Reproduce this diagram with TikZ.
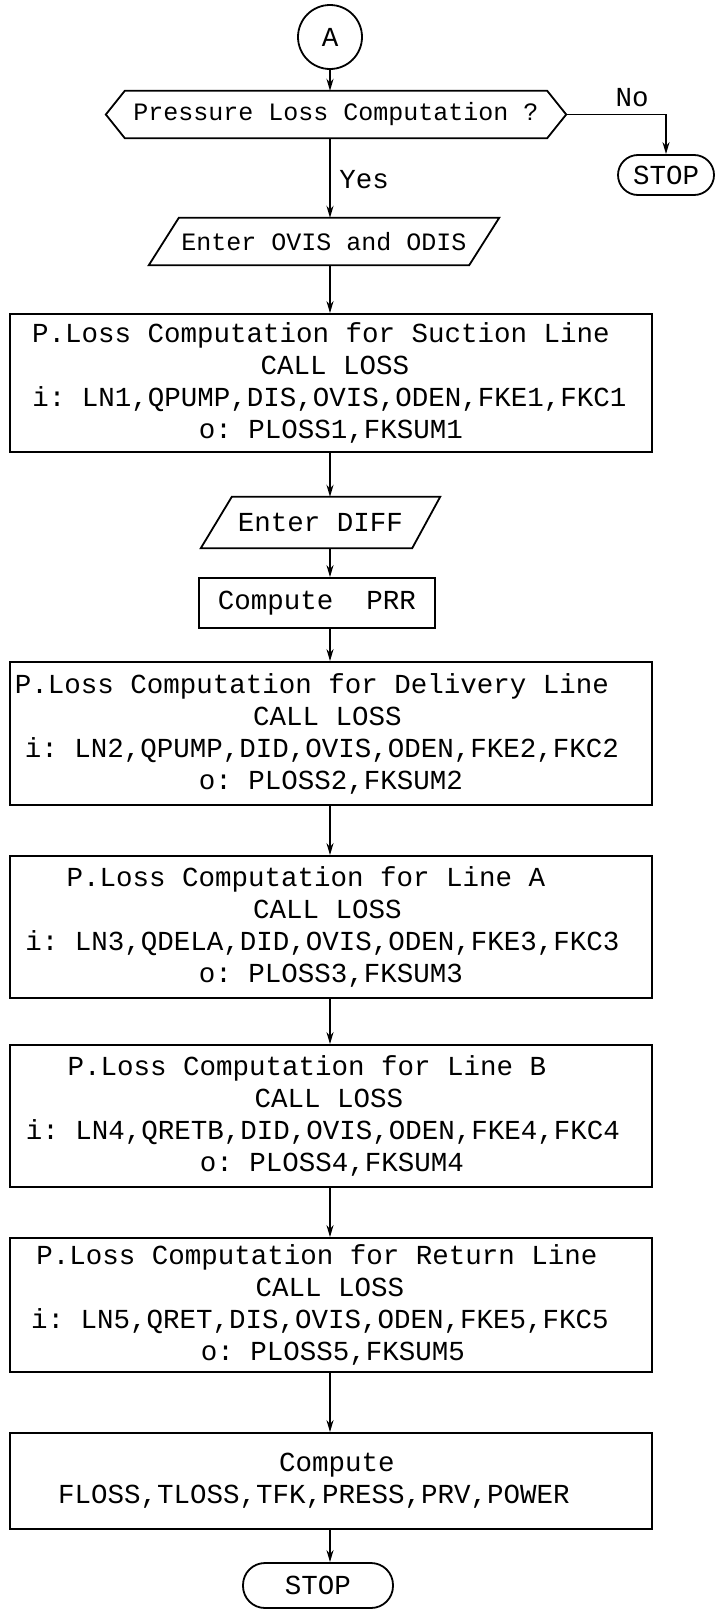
\documentclass[tikz,border=0pt]{standalone}
\usepackage{fontspec}
\setmonofont{Liberation Mono}
\usetikzlibrary{arrows.meta,calc}
\newcommand\lsh[2]{\hspace*{-#1pt}#2\hspace*{#1pt}}
\begin{document}
\begin{tikzpicture}[x=1pt,y=-1pt,
  every node/.style={font=\ttfamily\fontsize{27.5}{32}\selectfont, inner sep=0pt},
  smalltxt/.style={font=\ttfamily\fontsize{25}{30}\selectfont},
  line/.style={line width=1.8pt},
  arr/.style={line width=1.8pt,-{Stealth[length=12pt,width=7pt]}},
  procbox/.style={draw, line width=1.8pt, rectangle, align=center},
  holder/.style={rectangle, align=center},
  term/.style={draw, line width=1.8pt, rectangle, rounded corners=20pt}
]
\useasboundingbox (0,0) rectangle (715,1614);
\coordinate (ax) at (330,0);

\node[draw, circle, line width=1.8pt, minimum size=64pt] (A) at (330,37) {A};

\node[holder, smalltxt, minimum width=460pt, minimum height=47pt] (dec) at (336,114.5) {Pressure Loss Computation ?};
\draw[line] (dec.west) -- ($(dec.north west)+(19,0)$) -- ($(dec.north east)+(-19,0)$) -- (dec.east)
  -- ($(dec.south east)+(-19,0)$) -- ($(dec.south west)+(19,0)$) -- cycle;

\node[term, minimum width=96pt, minimum height=40pt] (stop1) at (666,175) {STOP};
\node (no) at (632,98) {No};
\node (yes) at (364,180) {Yes};

\node[holder, smalltxt, minimum width=350pt, minimum height=47pt] (ovis) at (324,241.5) {Enter OVIS and ODIS};
\draw[line] (ovis.south west) -- ($(ovis.north west)+(30,0)$) -- (ovis.north east)
  -- ($(ovis.south east)+(-30,0)$) -- cycle;

\node[procbox, minimum width=642pt, minimum height=138pt] (b1) at (331,383) {};
\node[holder] (t1) at (b1.center)
  {\lsh{10}{P.Loss Computation for Suction Line}\\\lsh{-8}{CALL LOSS}\\\lsh{3}{i: LN1,QPUMP,DIS,OVIS,ODEN,FKE1,FKC1}\\o: PLOSS1,FKSUM1};

\node[holder, minimum width=239pt, minimum height=51pt] (diff) at (320.5,522.5) {Enter DIFF};
\draw[line] (diff.south west) -- ($(diff.north west)+(31,0)$) -- (diff.north east)
  -- ($(diff.south east)+(-28,0)$) -- cycle;

\node[procbox, minimum width=236pt, minimum height=50pt] (prr) at (317,603) {Compute~~PRR};

\node[procbox, minimum width=642pt, minimum height=143pt] (b2) at (331,733.5) {};
\node[holder] (t2) at (b2.center)
  {\lsh{19}{P.Loss Computation for Delivery Line}\\\lsh{7}{CALL LOSS}\\\lsh{18}{i: LN2,QPUMP,DID,OVIS,ODEN,FKE2,FKC2}\\o: PLOSS2,FKSUM2};

\node[procbox, minimum width=642pt, minimum height=142pt] (b3) at (331,927) {};
\node[holder] (t3) at (b3.center)
  {\lsh{25}{P.Loss Computation for Line A}\\\lsh{7}{CALL LOSS}\\\lsh{17}{i: LN3,QDELA,DID,OVIS,ODEN,FKE3,FKC3}\\o: PLOSS3,FKSUM3};

\node[procbox, minimum width=642pt, minimum height=142pt] (b4) at (331,1116) {};
\node[holder] (t4) at (b4.center)
  {\lsh{24}{P.Loss Computation for Line B}\\\lsh{4}{CALL LOSS}\\\lsh{16}{i: LN4,QRETB,DID,OVIS,ODEN,FKE4,FKC4}\\\lsh{-1}{o: PLOSS4,FKSUM4}};

\node[procbox, minimum width=642pt, minimum height=134pt] (b5) at (331,1305) {};
\node[holder] (t5) at (b5.center)
  {\lsh{14}{P.Loss Computation for Return Line}\\\lsh{2}{CALL LOSS}\\\lsh{22}{i: LN5,QRET,DIS,OVIS,ODEN,FKE5,FKC5}\\\lsh{-2}{o: PLOSS5,FKSUM5}};

\node[procbox, minimum width=642pt, minimum height=96pt] (comp) at (331,1481)
  {\lsh{-6}{Compute}\\\lsh{17}{FLOSS,TLOSS,TFK,PRESS,PRV,POWER}};

\node[term, minimum width=150pt, minimum height=45pt, rounded corners=22pt] (stop2) at (318,1585.5) {STOP};

% connectors
\draw[arr] (A.south) -- (A.south |- dec.north);
\draw[arr] (dec.south -| ax) -- (ovis.north -| ax);
\draw[arr] (dec.east) -| (stop1.north);
\draw[arr] (ovis.south -| ax) -- (b1.north -| ax);
\draw[arr] (b1.south -| ax) -- (diff.north -| ax);
\draw[arr] (diff.south -| ax) -- (prr.north -| ax);
\draw[arr] (prr.south -| ax) -- (b2.north -| ax);
\draw[arr] (b2.south -| ax) -- (b3.north -| ax);
\draw[arr] (b3.south -| ax) -- (b4.north -| ax);
\draw[arr] (b4.south -| ax) -- (b5.north -| ax);
\draw[arr] (b5.south -| ax) -- (comp.north -| ax);
\draw[arr] (comp.south -| ax) -- (stop2.north -| ax);
\end{tikzpicture}
\end{document}
